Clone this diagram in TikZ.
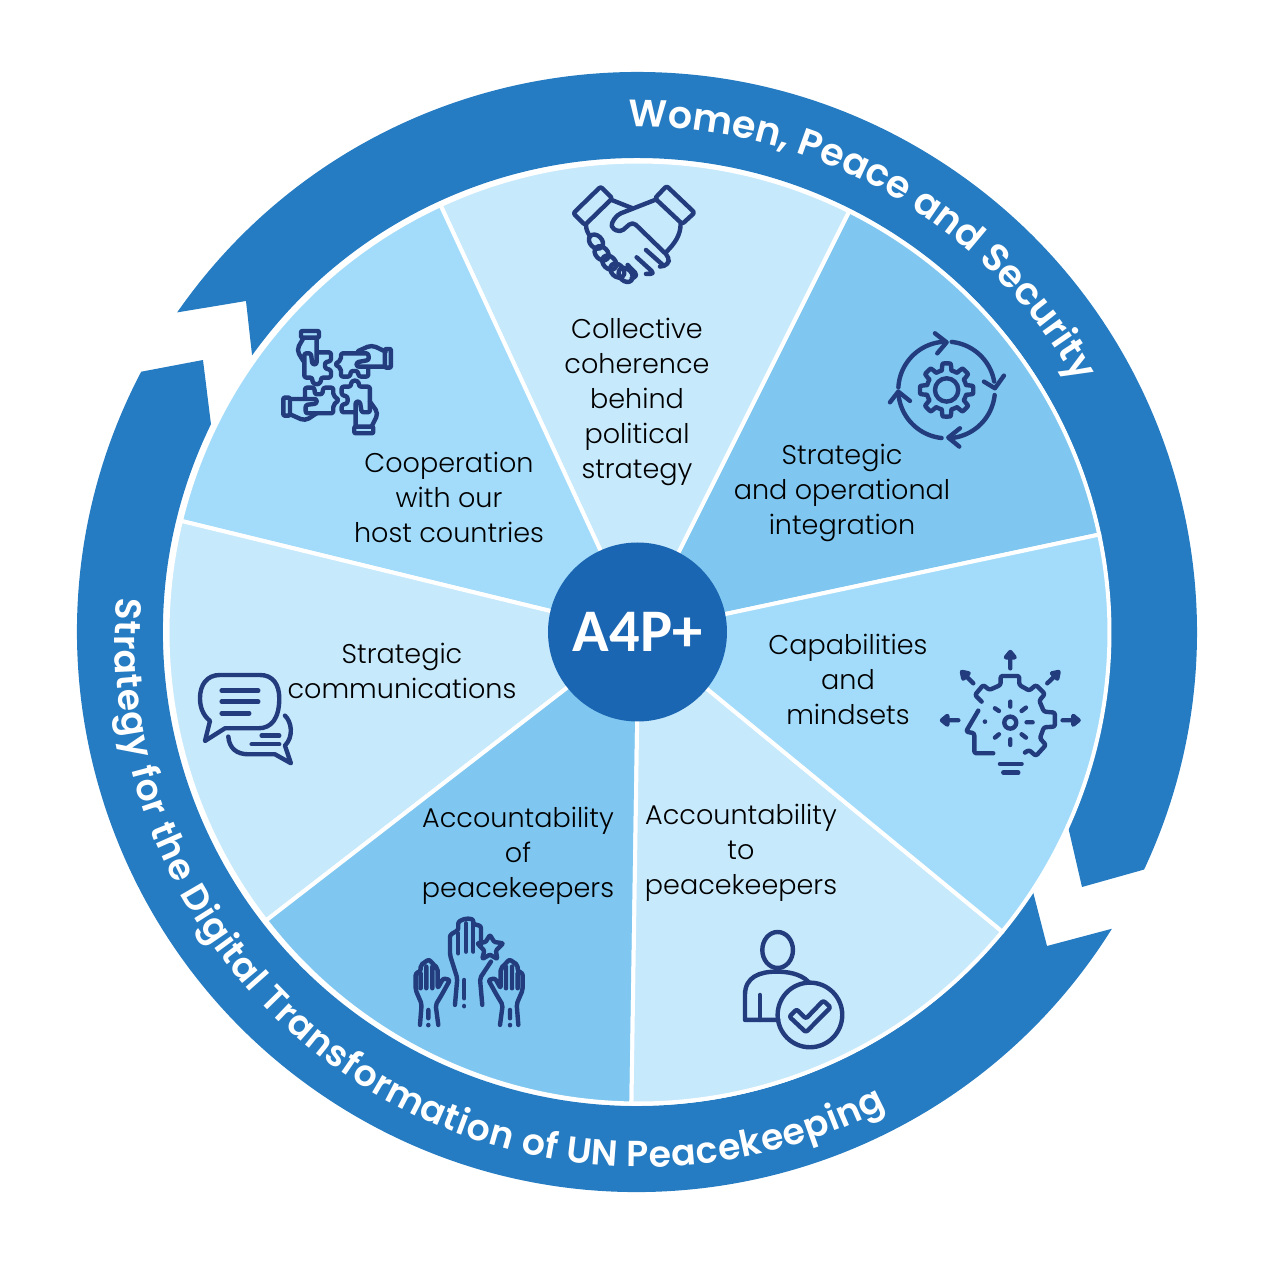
\documentclass[tikz,border=0pt]{standalone}
\usepackage{fontspec}
\setmainfont{Poppins Light}
\newfontfamily\ringfont{Poppins SemiBold}
\newfontfamily\hubfont{Carlito}
\usetikzlibrary{decorations.text}
\definecolor{ringblue}{HTML}{267CC2}
\definecolor{hubblue}{HTML}{1B66B2}
\definecolor{paleblue}{HTML}{C7E9FC}
\definecolor{midblue}{HTML}{A3DCFA}
\definecolor{deepblue}{HTML}{7FC7F0}
\definecolor{iconblue}{HTML}{233C7E}
\def\pieslice[#1](#2:#3){\draw[#1] (0,0) -- (#2:4.71) arc[start angle=#2,end angle=#3,radius=4.71] -- cycle;}
\def\handpath{(45,345) -- (50,282) -- (32,240) -- (32,190) -- (47,183) -- (47,165) -- (62,155) -- (72,148) -- (82,160) -- (98,175) -- (98,235) -- (115,205) -- (135,210) -- (110,255) -- (92,285) -- (100,345)
	(47,190) -- (47,235) (64,170) -- (64,235) (82,170) -- (82,235) (70,300) -- (70,325) (70,345) -- (70,346)}
\tikzset{
	zoomat/.style 2 args={shift={({(#1-637)/100},{(632-#2)/100})},x=0.01cm/3,y=-0.01cm/3},
	iconline/.style={draw=iconblue,line width=0.044cm,line cap=round,line join=round},
	softcorner/.style={rounded corners=0.6pt},
	widecorner/.style={rounded corners=1.3pt},
	slicelabel/.style={align=center,text=black,font=\fontsize{7.7}{9.96}\selectfont},
}

\begin{document}
\begin{tikzpicture}
	\useasboundingbox (-6.37,-6.35) rectangle (6.38,6.32);

	%%%%% ring arrows %%%%%
	\fill[ringblue] (145.2:5.6) arc[start angle=145.2,end angle=-25.1,radius=5.6] -- (4.45,-2.55) -- (-24.46:4.74) arc[start angle=-24.46,end angle=144.3,radius=4.74] -- (-3.91,3.31) -- cycle;
	\fill[ringblue] (-32:5.6) arc[start angle=-32,end angle=-207.7,radius=5.6] -- (-4.34,2.72) -- (154:4.74) arc[start angle=-206,end angle=-33.3,radius=4.74] -- (4.10,-3.14) -- cycle;

	\path[decorate,decoration={text along path,text align={fit to path},text={|\fontsize{10.8}{13}\ringfont\color{white}|Women, Peace and Security}}] (91:5.05) arc[start angle=91,end angle=30,radius=5.05];
	\path[shift={(0.06,-0.07)},decorate,decoration={text along path,text align={fit to path},text={|\fontsize{10.3}{13}\ringfont\color{white}|Strategy for the Digital Transformation of UN Peacekeeping}}] (175.5:5.28) arc[start angle=175.5,end angle=297.5,radius=5.28];

	%%%%% pie %%%%%
	\begin{scope}[shift={(0.015,-0.005)}]
		\foreach \shade [count=\k from 0] in {deepblue,paleblue,midblue,paleblue,deepblue,paleblue,midblue} {
			\pgfmathsetmacro\from{12+\k*360/7}
			\pgfmathsetmacro\to{12+(\k+1)*360/7}
			\pieslice[fill=\shade,draw=white,line width=0.04cm](\from:\to)
		}
	\end{scope}
	\node[circle,fill=hubblue,minimum size=1.79cm,inner sep=0pt,text=white,font=\fontsize{17.2}{20}\hubfont\bfseries] (hub) at (0.005,0) {A4P+};

	\node[slicelabel] (coherence) at (0,2.30) {Collective\\coherence\\behind\\political\\strategy};
	\node[slicelabel] (integration) at (2.05,1.39) {Strategic\\and operational\\integration};
	\node[slicelabel] (capabilities) at (2.11,-0.47) {Capabilities\\and\\mindsets};
	\node[slicelabel] (accountto) at (1.04,-2.21) {Accountability\\to\\peacekeepers};
	\node[slicelabel] (accountof) at (-1.19,-2.24) {Accountability\\of\\peacekeepers};
	\node[slicelabel] (communications) at (-2.35,-0.39) {Strategic\\communications};
	\node[slicelabel] (cooperation) at (-1.88,1.35) {Cooperation\\with our\\host countries};

	%%%%% handshake %%%%%
	\begin{scope}[zoomat={560}{170}]
		\draw[iconline,softcorner] (122,50) -- (157,85) -- (75,165) -- (40,130) -- cycle;
		\draw[iconline,softcorner] (320,48) -- (285,85) -- (367,162) -- (404,128) -- cycle;
		\draw[iconline] (155,90) -- (218,115);
		\draw[iconline,widecorner] (290,88) -- (170,135) -- (150,170) -- (180,188) -- (218,155) -- (328,262) -- (325,285) -- (300,290);
		\draw[iconline] (258,240) -- (312,288);
		\draw[iconline,widecorner] (230,262) -- (285,312) -- (258,312);
		\draw[iconline,widecorner] (203,285) -- (235,318) -- (215,325);
		\draw[iconline] (362,162) .. controls (362,195) and (345,220) .. (320,245);
		\draw[iconline] (78,165) .. controls (78,180) and (85,190) .. (90,200);
		\foreach \cx/\cy in {108/215,125/250,148/278,172/302,197/315} {
			\draw[iconline,rotate around={-45:(\cx,\cy)}] (\cx,\cy) ellipse (24 and 18);
		}
	\end{scope}

	%%%%% gear and arrows %%%%%
	\begin{scope}[zoomat={880}{325},declare function={gearrad(\a)=60+20*min(1,max(0,0.5+1.4*cos(8*\a)));}]
		\draw[iconline] (200,195) circle (35);
		\draw[iconline] plot[domain=0:360,samples=241] ({200+gearrad(\x)*cos(\x)},{195-gearrad(\x)*sin(\x)}) -- cycle;
		\draw[iconline] plot[domain=177:92,samples=30] ({200+145*cos(\x)},{195-145*sin(\x)});
		\draw[iconline] plot[domain=84:10,samples=30] ({200+145*cos(\x)},{195-145*sin(\x)});
		\draw[iconline] plot[domain=-6:-86,samples=30] ({200+145*cos(\x)},{195-145*sin(\x)});
		\draw[iconline] plot[domain=-96:-174,samples=30] ({200+145*cos(\x)},{195-145*sin(\x)});
		\draw[iconline] (165,25) -- (200,52) -- (172,85);
		\draw[iconline] (372,152) -- (345,190) -- (312,170);
		\draw[iconline] (240,310) -- (205,338) -- (238,365);
		\draw[iconline] (30,232) -- (55,200) -- (90,228);
	\end{scope}

	%%%%% head with gear %%%%%
	\begin{scope}[zoomat={930}{640}]
		\draw[iconline,softcorner] (155,185) -- (135,165) -- (160,135) -- (178,150) -- (212,135) -- (212,108) -- (268,108) -- (268,135) -- (298,152) -- (318,135) -- (345,162) -- (328,182) -- (342,215) -- (375,218) -- (375,260) -- (342,262) -- (330,295) -- (348,315) -- (318,348) -- (297,330) -- (285,338);
		\draw[iconline,softcorner] (145,212) -- (108,275) -- (133,280) -- (133,340) -- (190,340);
		\draw[iconline] (210,372) -- (275,372) (220,398) -- (265,398);
		\draw[iconline] (241,248) circle (18);
		\fill[iconblue] (165,245) circle (7);
		\draw[iconline] (241,185) -- (241,200) (241,298) -- (241,315) (195,205) -- (207,213) (288,203) -- (275,213) (195,293) -- (207,283) (288,293) -- (275,283) (290,247) -- (308,247);
		\draw[iconline] (241,85) -- (241,50) (85,241) -- (50,241) (398,241) -- (430,241) (130,130) -- (108,108) (352,130) -- (375,108);
		\draw[iconline,fill=iconblue] (228,52) -- (241,36) -- (254,52) -- cycle;
		\draw[iconline,fill=iconblue] (52,228) -- (36,241) -- (52,254) -- cycle;
		\draw[iconline,fill=iconblue] (430,228) -- (446,241) -- (430,254) -- cycle;
		\draw[iconline,fill=iconblue] (96,96) -- (116,100) -- (100,116) -- cycle;
		\draw[iconline,fill=iconblue] (386,96) -- (366,100) -- (382,116) -- cycle;
	\end{scope}

	%%%%% person with check %%%%%
	\begin{scope}[zoomat={730}{920}]
		\draw[iconline] (143,90) ellipse (46 and 54);
		\draw[iconline] (235,185) .. controls (210,160) and (170,155) .. (140,155) .. controls (90,155) and (45,170) .. (45,225) -- (45,300) -- (145,300);
		\draw[iconline] (90,225) -- (90,300);
		\draw[iconline] (240,285) circle (97);
		\draw[iconline,softcorner] (178,290) -- (200,268) -- (228,296) -- (280,242) -- (302,262) -- (228,337) -- cycle;
	\end{scope}

	%%%%% raised hands %%%%%
	\begin{scope}[zoomat={405}{910}]
		\draw[iconline,softcorner] \handpath;
		\draw[iconline,softcorner] (150,285) -- (157,205) -- (135,135) -- (135,75) -- (160,60) -- (160,35) -- (183,25) -- (205,28) -- (205,42) -- (228,48) -- (228,105);
		\draw[iconline,softcorner] (258,155) -- (225,205) -- (232,285);
		\draw[iconline] (160,70) -- (160,130) (183,40) -- (183,125) (205,40) -- (205,125) (178,210) -- (178,265) (178,288) -- (178,289);
		\draw[iconline,rounded corners=0.3pt] (255,75) -- (268,96) -- (295,100) -- (273,122) -- (277,147) -- (255,134) -- (232,147) -- (238,122) -- (217,100) -- (242,96) -- cycle;
	\end{scope}
	\begin{scope}[zoomat={533.33}{910},x=-0.01cm/3]
		\draw[iconline,softcorner] \handpath;
	\end{scope}

	%%%%% speech bubbles %%%%%
	\begin{scope}[zoomat={190}{665}]
		\draw[iconline] (90,30) -- (210,30) .. controls (250,30) and (268,60) .. (268,100) .. controls (268,160) and (245,190) .. (205,190) -- (105,190) -- (45,228) -- (60,168) .. controls (38,150) and (30,125) .. (30,100) .. controls (30,60) and (50,30) .. (90,30) -- cycle;
		\draw[iconline] (95,77) -- (205,77) (95,110) -- (205,110) (95,145) -- (178,145);
		\draw[iconline] (285,152) .. controls (305,170) and (312,215) .. (285,242) -- (303,295) -- (255,268) -- (175,268) .. controls (140,268) and (118,250) .. (115,215);
		\draw[iconline] (215,212) -- (268,212) (185,238) -- (268,238);
	\end{scope}

	%%%%% puzzle hands %%%%%
	\begin{scope}[zoomat={275}{325}]
		% top left
		\draw[iconline,rounded corners=0.3pt] (78,18) rectangle (132,38);
		\draw[iconline,widecorner] (85,40) -- (65,75) -- (85,108);
		\draw[iconline,softcorner] (125,40) -- (125,118) -- (112,118) -- (108,85) -- (88,85) -- (88,158) -- (112,158) -- (112,172) -- (125,180) -- (138,172) -- (138,158) -- (168,158) -- (168,135) -- (150,130) -- (150,112) -- (168,108) -- (168,82) -- (130,82);
		% top right
		\draw[iconline,rounded corners=0.3pt] (330,72) rectangle (348,128);
		\draw[iconline,widecorner] (332,80) -- (290,60) -- (250,78);
		\draw[iconline,softcorner] (330,125) -- (245,125) -- (245,112) -- (282,105) -- (280,85) -- (198,85) -- (198,105) -- (180,118) -- (198,130) -- (198,155) -- (225,155) -- (228,138) -- (248,138) -- (252,155) -- (280,155) -- (280,128);
		% bottom left
		\draw[iconline,rounded corners=0.3pt] (25,218) rectangle (45,272);
		\draw[iconline,widecorner] (45,268) -- (90,288) -- (125,265);
		\draw[iconline,softcorner] (45,222) -- (125,222) -- (125,236) -- (92,240) -- (92,265) -- (175,265) -- (175,240) -- (192,225) -- (175,212) -- (175,188) -- (145,188) -- (142,208) -- (120,208) -- (118,188) -- (90,188) -- (90,222);
		% bottom right
		\draw[iconline,rounded corners=0.3pt] (238,305) rectangle (295,325);
		\draw[iconline,widecorner] (290,305) -- (310,265) -- (285,230);
		\draw[iconline,softcorner] (242,305) -- (242,230) -- (255,230) -- (260,262) -- (285,262) -- (285,185) -- (252,185) -- (252,172) -- (240,165) -- (228,172) -- (228,185) -- (200,185) -- (200,210) -- (218,215) -- (218,235) -- (200,240) -- (200,262) -- (242,262);
	\end{scope}
\end{tikzpicture}
\end{document}
